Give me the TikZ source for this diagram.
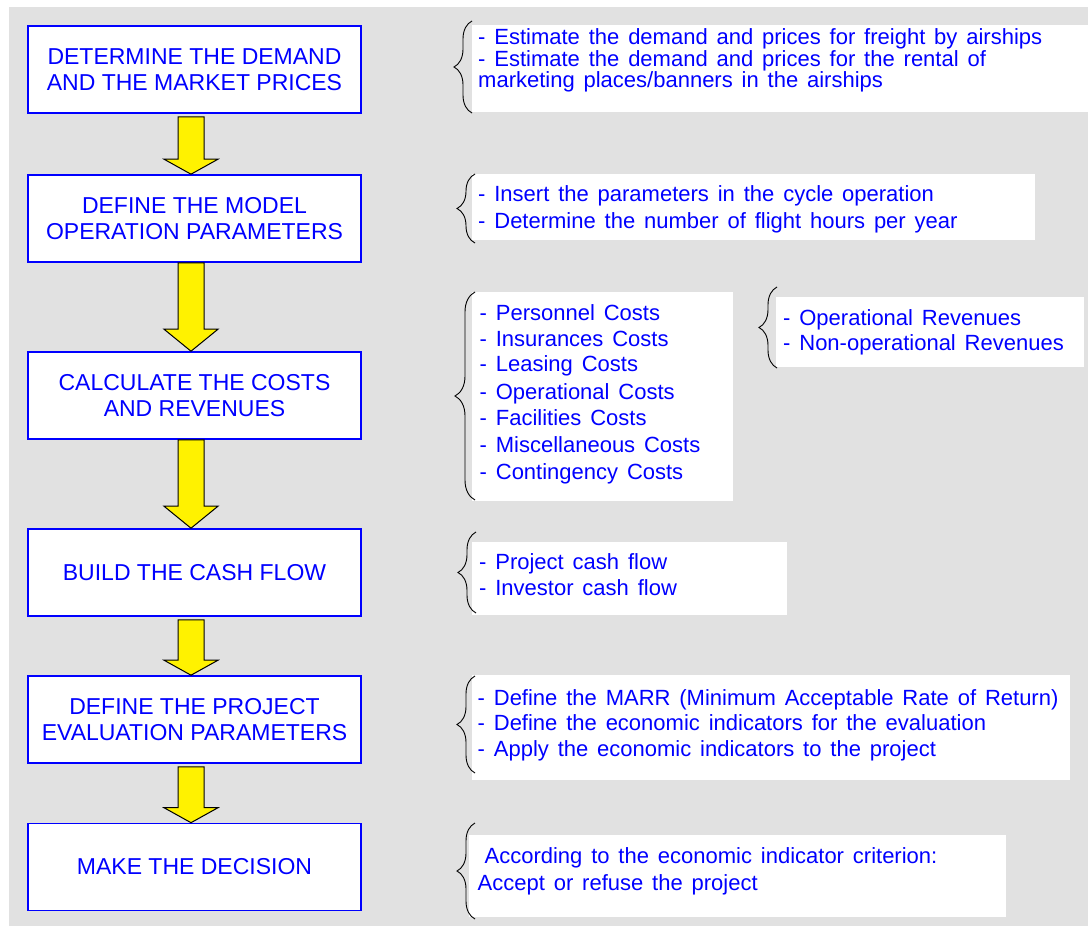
\documentclass[tikz,border=0pt]{standalone}
\usepackage{fontspec}
\setmainfont{Liberation Sans}
\newfontfamily\rfont[WordSpace=1.45]{Liberation Sans}
\usetikzlibrary{calc,decorations.pathreplacing}
\definecolor{bgray}{HTML}{E1E1E1}
\definecolor{tblue}{HTML}{0000FF}
\newcommand\flowarrow[4]{%
  \draw[yarrow] let \p1=(#1.south), \p2=(#2.north) in
   (\x1-16.5pt,\y1-#3pt) -- (\x1+9.5pt,\y1-#3pt) -- (\x1+9.5pt,\y2+#4pt) --
   (\x1+23.5pt,\y2+#4pt) -- (\x1-3.5pt,\y2) -- (\x1-30.5pt,\y2+#4pt) --
   (\x1-16.5pt,\y2+#4pt) -- cycle;}
\begin{document}
\begin{tikzpicture}[x=1pt,y=-1pt,
  stepbox/.style={draw=tblue, line width=1.6pt, fill=white, text=tblue, align=center,
    font=\fontsize{23}{26}\selectfont, minimum width=333pt, minimum height=87pt, inner sep=0pt},
  wbox/.style={fill=white, draw=none, inner sep=0pt, outer sep=0pt, anchor=north west},
  ln/.style={anchor=base west, inner sep=0pt, text=tblue, font=\rfont\fontsize{22}{26}\selectfont},
  brc/.style={draw=black, line width=0.9pt, decorate, decoration={brace, amplitude=#1}},
  brc/.default=18pt,
  yarrow/.style={fill=yellow, draw=black, line width=1pt, line join=miter}]
\useasboundingbox (0,0) rectangle (1088,926);
\fill[bgray] (9,7) rectangle (1088,926);

% step boxes
\node[stepbox] (b1) at (194.5,69.5) {DETERMINE THE DEMAND\\AND THE MARKET PRICES};
\node[stepbox] (b2) at (194.5,218.5) {DEFINE THE MODEL\\OPERATION PARAMETERS};
\node[stepbox] (b3) at (194.5,395.5) {CALCULATE THE COSTS\\AND REVENUES};
\node[stepbox] (b4) at (194.5,572.5) {BUILD THE CASH FLOW};
\node[stepbox] (b5) at (194.5,719.5) {DEFINE THE PROJECT\\EVALUATION PARAMETERS};
\node[stepbox] (b6) at (194.5,867) {MAKE THE DECISION};

% arrows
\flowarrow{b1}{b2}{3}{15}
\flowarrow{b2}{b3}{0}{22}
\flowarrow{b3}{b4}{0}{22}
\flowarrow{b4}{b5}{3}{15}
\flowarrow{b5}{b6}{3}{15}

% white text boxes
\node[wbox, minimum width=616pt, minimum height=87pt] (w1) at (472,25) {};
\node[wbox, minimum width=563pt, minimum height=66pt] (w2) at (472,174) {};
\node[wbox, minimum width=261pt, minimum height=209pt] (w3) at (472,292) {};
\node[wbox, minimum width=308pt, minimum height=70pt] (w3b) at (776,297) {};
\node[wbox, minimum width=315pt, minimum height=73pt] (w4) at (472,542) {};
\node[wbox, minimum width=598pt, minimum height=105pt] (w5) at (472,675) {};
\node[wbox, minimum width=537pt, minimum height=82pt] (w6) at (469,835) {};

% braces
\draw[brc] (472,113) -- (472,21);
\draw[brc] (475,243) -- (475,174);
\draw[brc=20pt] (475,500) -- (475,292);
\draw[brc] (777,368) -- (777,287);
\draw[brc] (476,613) -- (476,532);
\draw[brc] (475,773) -- (475,676);
\draw[brc] (475,919) -- (475,823);

% texts
\node[ln] (t11) at (478,45) {- Estimate the demand and prices for freight by airships};
\node[ln] (t12) at (478,66) {- Estimate the demand and prices for the rental of};
\node[ln] (t13) at (478,87) {marketing places/banners in the airships};

\node[ln] (t21) at (478,201.7) {- Insert the parameters in the cycle operation};
\node[ln] (t22) at (478,228.3) {- Determine the number of flight hours per year};

\node[ln] (t31) at (479.5,320) {- Personnel Costs};
\node[ln] (t32) at (479.5,346.7) {- Insurances Costs};
\node[ln] (t33) at (479.5,371.7) {- Leasing Costs};
\node[ln] (t34) at (479.5,399.3) {- Operational Costs};
\node[ln] (t35) at (479.5,425.7) {- Facilities Costs};
\node[ln] (t36) at (479.5,452) {- Miscellaneous Costs};
\node[ln] (t37) at (479.5,479.3) {- Contingency Costs};

\node[ln] (r1) at (783,325) {- Operational Revenues};
\node[ln] (r2) at (783,350.7) {- Non-operational Revenues};

\node[ln] (t41) at (479,569.3) {- Project cash flow};
\node[ln] (t42) at (479,595.3) {- Investor cash flow};

\node[ln] (t51) at (477.5,705) {- Define the MARR (Minimum Acceptable Rate of Return)};
\node[ln] (t52) at (477.5,730.7) {- Define the economic indicators for the evaluation};
\node[ln] (t53) at (477.5,756) {- Apply the economic indicators to the project};

\node[ln] (t61) at (484.4,863.3) {According to the economic indicator criterion:};
\node[ln] (t62) at (477.5,890) {Accept or refuse the project};
\end{tikzpicture}
\end{document}
